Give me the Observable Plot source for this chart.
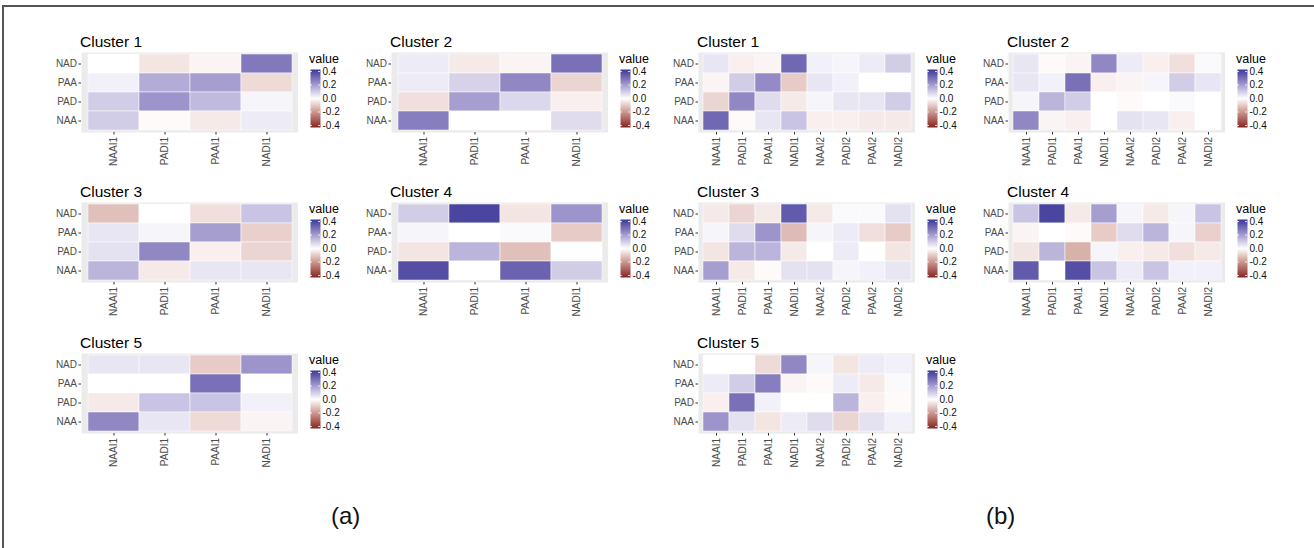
<!DOCTYPE html>
<html>
<head>
<meta charset="utf-8">
<script src="https://cdn.jsdelivr.net/npm/d3@7"></script>
<script src="https://cdn.jsdelivr.net/npm/@observablehq/plot@0.6"></script>
<style>
  body { margin: 0; background: #fff; }
  #root { position: relative; width: 1314px; height: 548px; overflow: hidden; background: #fff;
          font-family: "Liberation Sans", Arial, Helvetica, sans-serif; }
  .abs { position: absolute; }
  .title { font-size: 15.5px; line-height: 15px; color: #000; white-space: nowrap; }
  .ltitle { font-size: 12.5px; line-height: 12px; color: #000; white-space: nowrap; }
  .panel-label { font-size: 24px; line-height: 24px; color: #111; }
</style>
</head>
<body>
<div id="root"></div>
<script>
// ---- data ----
const rows = ["NAD", "PAA", "PAD", "NAA"];
const colsA = ["NAAI1", "PADI1", "PAAI1", "NADI1"];
const colsB = ["NAAI1", "PADI1", "PAAI1", "NADI1", "NAAI2", "PADI2", "PAAI2", "NADI2"];
const clusterNames = ["Cluster 1", "Cluster 2", "Cluster 3", "Cluster 4", "Cluster 5"];
const legendTicks = [-0.4, -0.2, 0, 0.2, 0.4];
const legendDomain = [-0.43, 0.43];

// (a) values: rows NAD, PAA, PAD, NAA x cols NAAI1, PADI1, PAAI1, NADI1
const a1 = [[0.00, -0.05, -0.02, 0.28], [0.03, 0.17, 0.20, -0.07], [0.10, 0.22, 0.14, 0.02], [0.10, -0.01, -0.04, 0.04]];
const a2 = [[0.04, -0.04, -0.02, 0.30], [0.04, 0.09, 0.25, -0.08], [-0.06, 0.20, 0.08, -0.03], [0.27, 0.00, 0.00, 0.07]];
const a3 = [[-0.12, 0.00, -0.06, 0.12], [0.05, 0.02, 0.20, -0.09], [0.06, 0.25, -0.03, -0.08], [0.15, -0.04, 0.05, 0.05]];
const a4 = [[0.10, 0.40, -0.05, 0.22], [0.02, 0.00, 0.01, -0.10], [-0.05, 0.15, -0.12, 0.00], [0.38, 0.00, 0.33, 0.10]];
const a5 = [[0.05, 0.05, -0.10, 0.22], [0.00, 0.00, 0.30, 0.00], [-0.04, 0.12, 0.12, 0.03], [0.25, 0.05, -0.07, -0.02]];

// (b) values: rows x cols NAAI1..NADI1, NAAI2..NADI2
const b1 = [[0.05, -0.03, -0.02, 0.32, 0.03, 0.02, 0.04, 0.10],
            [-0.02, 0.10, 0.24, -0.10, 0.05, 0.03, 0.00, 0.00],
            [-0.08, 0.25, 0.07, -0.04, 0.02, 0.05, 0.05, 0.10],
            [0.32, -0.01, 0.05, 0.12, -0.03, -0.03, -0.04, -0.04]];
const b2 = [[0.05, -0.01, -0.02, 0.25, 0.04, -0.03, -0.06, 0.01],
            [0.05, 0.03, 0.30, -0.03, -0.02, 0.02, 0.10, 0.05],
            [0.02, 0.15, 0.10, 0.00, -0.01, 0.00, 0.01, 0.00],
            [0.25, -0.02, -0.03, 0.00, 0.06, 0.05, -0.03, 0.00]];
const b3 = [[-0.04, -0.08, -0.04, 0.35, -0.04, 0.01, 0.01, 0.06],
            [0.02, 0.07, 0.22, -0.13, 0.02, 0.04, -0.06, -0.10],
            [-0.05, 0.15, 0.15, -0.04, 0.00, 0.04, 0.00, -0.05],
            [0.20, -0.04, -0.01, 0.06, 0.06, 0.02, 0.03, 0.05]];
const b4 = [[0.12, 0.40, -0.04, 0.20, 0.02, -0.04, 0.02, 0.12],
            [-0.02, 0.00, -0.01, -0.10, 0.07, 0.15, 0.02, -0.09],
            [-0.05, 0.15, -0.15, 0.02, -0.03, -0.04, -0.06, -0.04],
            [0.35, 0.00, 0.38, 0.12, 0.04, 0.12, 0.03, 0.03]];
const b5 = [[0.00, 0.00, -0.07, 0.25, 0.02, -0.05, 0.04, 0.03],
            [0.04, 0.10, 0.27, -0.02, -0.01, 0.04, -0.04, 0.01],
            [-0.03, 0.30, 0.03, 0.00, 0.00, 0.15, -0.03, -0.01],
            [0.22, 0.06, -0.05, 0.04, 0.07, -0.08, 0.06, 0.03]];

// ---- layout ----
const root = document.getElementById("root");
const PW = 217, PH = 80, ML = 40, MB = 48;
const FONT = '"Liberation Sans", Arial, Helvetica, sans-serif';
const colorScale = {
  type: "linear",
  domain: [legendDomain[0], 0, legendDomain[1]],
  range: ["#832424", "#ffffff", "#3A3A98"],
  interpolate: "lab",
  clamp: true
};

function place(el, x, y) {
  el.style.position = "absolute";
  el.style.left = x + "px";
  el.style.top = y + "px";
  root.appendChild(el);
}
function addText(cls, text, x, y) {
  const d = document.createElement("div");
  d.className = "abs " + cls;
  d.textContent = text;
  d.style.left = x + "px";
  d.style.top = y + "px";
  root.appendChild(d);
}

function heatmap(matrix, cols, name, px, py) {
  const data = rows.flatMap((r, i) => cols.map((c, j) => ({row: r, col: c, value: matrix[i][j]})));
  const svg = Plot.plot({
    width: ML + PW,
    height: PH + MB,
    marginLeft: ML, marginRight: 0, marginTop: 0, marginBottom: MB,
    style: {fontFamily: FONT, fontSize: "10px", color: "#4d4d4d", background: "transparent"},
    x: {domain: cols, paddingInner: 0, paddingOuter: 0.1, label: null},
    y: {domain: rows, paddingInner: 0, paddingOuter: 0.1, label: null},
    color: colorScale,
    marks: [
      Plot.frame({fill: "#ebebeb", stroke: null}),
      Plot.cell(data, {x: "col", y: "row", fill: "value", inset: 0, stroke: "white", strokeWidth: 0.5}),
      Plot.axisY({tickSize: 2.5, tickPadding: 2, stroke: "#333", fill: "#4d4d4d"}),
      Plot.axisX({tickSize: 2.5, tickPadding: 2, tickRotate: -90, stroke: "#333", fill: "#4d4d4d"})
    ]
  });
  place(svg, px - ML, py);
  addText("title", name, px - 1, py - 18);

  // legend
  const LW = 50;
  const leg = Plot.plot({
    width: LW, height: PH,
    marginLeft: 0, marginRight: LW - 10, marginTop: 17, marginBottom: PH - 17 - 58,
    style: {fontFamily: FONT, fontSize: "10px", color: "#000", background: "transparent"},
    x: {domain: [0, 1], axis: null},
    y: {domain: legendDomain, axis: null},
    color: colorScale,
    marks: [
      Plot.raster({fill: (x, y) => y, x1: 0, x2: 1, y1: legendDomain[0], y2: legendDomain[1]}),
      Plot.ruleY(legendTicks, {x1: 0, x2: 0.2, stroke: "white", strokeWidth: 0.8}),
      Plot.ruleY(legendTicks, {x1: 0.8, x2: 1, stroke: "white", strokeWidth: 0.8}),
      Plot.axisY({anchor: "right", ticks: legendTicks, tickFormat: d => d.toFixed(1), tickSize: 0, tickPadding: 2, fill: "#111"})
    ]
  });
  place(leg, px + PW + 12, py);
  addText("ltitle", "value", px + PW + 11, py + 1);
}

const posA = [[81, 52], [391, 52], [81, 202], [391, 202], [81, 353]];
const posB = [[698, 52], [1008, 52], [698, 202], [1008, 202], [698, 353]];
[a1, a2, a3, a4, a5].forEach((m, i) => heatmap(m, colsA, clusterNames[i], posA[i][0], posA[i][1]));
[b1, b2, b3, b4, b5].forEach((m, i) => heatmap(m, colsB, clusterNames[i], posB[i][0], posB[i][1]));

// panel labels
addText("panel-label", "(a)", 331, 504);
addText("panel-label", "(b)", 986, 504);

// figure border (top and left)
const borderTop = document.createElement("div");
borderTop.style.cssText = "position:absolute;left:3px;top:5px;width:1311px;height:1.5px;background:#555";
root.appendChild(borderTop);
const borderLeft = document.createElement("div");
borderLeft.style.cssText = "position:absolute;left:2px;top:5px;width:1.5px;height:543px;background:#555";
root.appendChild(borderLeft);
</script>
</body>
</html>
